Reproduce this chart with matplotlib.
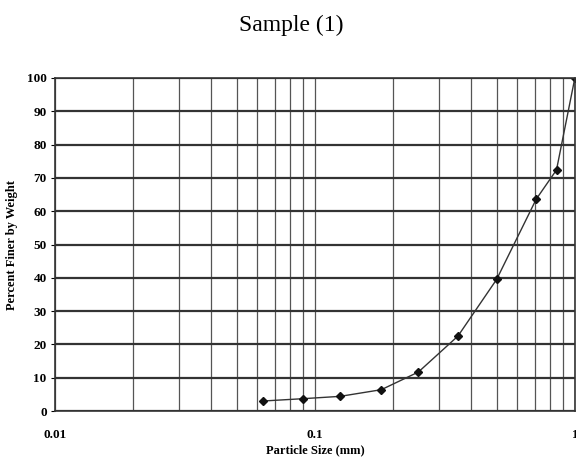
import matplotlib
matplotlib.use("Agg")
import matplotlib.pyplot as plt
from matplotlib.ticker import FixedLocator, LogLocator, NullFormatter

plt.rcParams['font.family'] = ['Liberation Serif', 'DejaVu Serif']

# sieve sizes (mm) and percent passing
size_mm = [0.063, 0.09, 0.125, 0.18, 0.25, 0.355, 0.5, 0.71, 0.85, 1.0]
pct_finer = [3.0, 3.7, 4.4, 6.4, 11.7, 22.5, 39.5, 63.6, 72.4, 100.0]

x_ticks = [0.01, 0.1, 1]
x_labels = ["0.01", "0.1", "1"]
y_ticks = list(range(0, 101, 10))

fig = plt.figure(figsize=(5.76, 4.58), dpi=100)
ax = fig.add_axes([0.0955, 0.1026, 0.9025, 0.7271])

ax.plot(size_mm, pct_finer, '-', color='#333333', lw=1.0,
        marker='D', ms=4.5, mfc='#111111', mec='#111111')

ax.set_xscale('log')
ax.set_xlim(0.01, 1)
ax.set_ylim(0, 100)

ax.xaxis.set_major_locator(FixedLocator(x_ticks))
ax.set_xticklabels(x_labels)
ax.xaxis.set_minor_locator(LogLocator(base=10, subs=range(2, 10)))
ax.xaxis.set_minor_formatter(NullFormatter())
ax.set_yticks(y_ticks)

ax.grid(True, which='major', axis='y', color='#333333', lw=1.6)
ax.grid(True, which='both', axis='x', color='#555555', lw=0.9)

ax.tick_params(axis='x', which='both', length=0, pad=13, labelsize=9.5)
ax.tick_params(axis='y', length=3, pad=3, labelsize=9.5)
for lab in ax.get_xticklabels() + ax.get_yticklabels():
    lab.set_fontweight('bold')

for s in ax.spines.values():
    s.set_color('#333333')
    s.set_linewidth(1.2)

ax.set_xlabel("Particle Size (mm)", fontsize=9, fontweight='bold', labelpad=2)
ax.set_ylabel("Percent Finer by Weight", fontsize=9, fontweight='bold', labelpad=6)

fig.text(0.505, 0.945, "Sample (1)", ha='center', va='center', fontsize=17)

fig.savefig("out.png", dpi=100)
